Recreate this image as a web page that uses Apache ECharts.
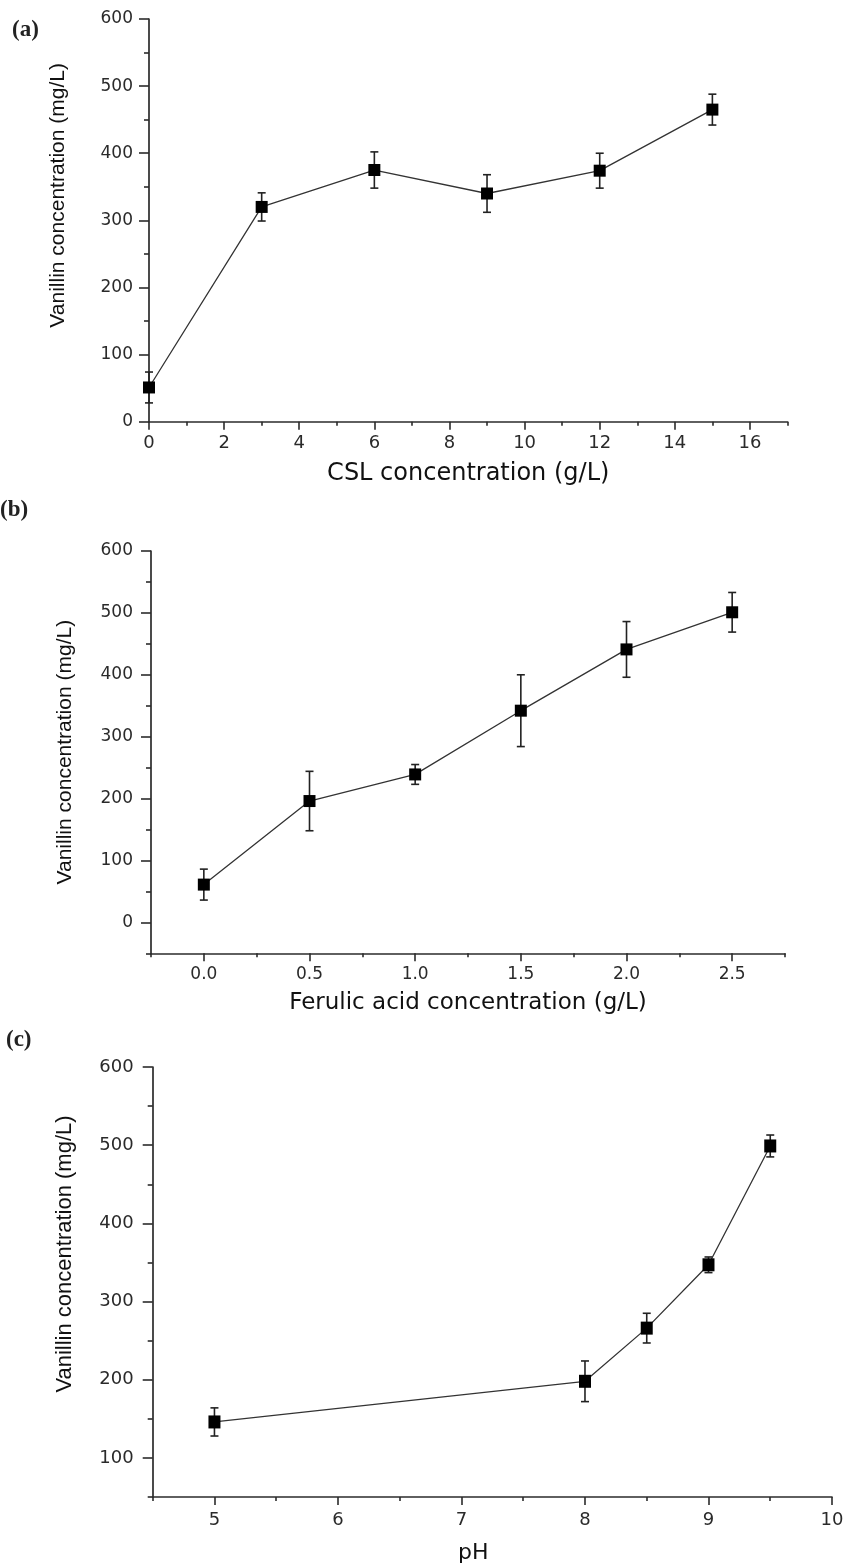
<!DOCTYPE html>
<html>
<head>
<meta charset="utf-8">
<script src="https://cdn.jsdelivr.net/npm/echarts@6/dist/echarts.min.js"></script>
<style>
  html, body { margin: 0; padding: 0; background: #fff; }
  #main { width: 849px; height: 1568px; }
</style>
</head>
<body>
<div id="main"></div>
<script>
// (a) CSL concentration
var cslX = [0, 3, 6, 9, 12, 15];
var cslY = [51, 320, 375, 340, 374, 465];
var cslErr = [23, 21, 27, 28, 26, 23];
// (b) ferulic acid concentration
var faX = [0, 0.5, 1.0, 1.5, 2.0, 2.5];
var faY = [61, 196, 239, 342, 441, 501];
var faErr = [25, 48, 16, 58, 45, 32];
// (c) pH
var phX = [5, 8, 8.5, 9, 9.5];
var phY = [146, 198, 266, 347, 499];
var phErr = [18, 26, 19, 10, 14];

// tick values
var aXMajor = [0, 2, 4, 6, 8, 10, 12, 14, 16];
var aXMinor = [1, 3, 5, 7, 9, 11, 13, 15, 17];
var aYMajor = [0, 100, 200, 300, 400, 500, 600];
var aYMinor = [50, 150, 250, 350, 450, 550];
var bXMajor = [0, 0.5, 1.0, 1.5, 2.0, 2.5];
var bXMinor = [-0.25, 0.25, 0.75, 1.25, 1.75, 2.25, 2.75];
var bYMajor = [0, 100, 200, 300, 400, 500, 600];
var bYMinor = [-50, 50, 150, 250, 350, 450, 550];
var cXMajor = [5, 6, 7, 8, 9, 10];
var cXMinor = [4.5, 5.5, 6.5, 7.5, 8.5, 9.5];
var cYMajor = [100, 200, 300, 400, 500, 600];
var cYMinor = [50, 150, 250, 350, 450, 550];

var chart = echarts.init(document.getElementById('main'));

var axisColor = '#2b2b2b';
var tickFont = 'DejaVu Sans';

function pairs(xs, ys) {
  var out = [];
  for (var i = 0; i < xs.length; i++) out.push([xs[i], ys[i]]);
  return out;
}
function errData(xs, ys, es) {
  var out = [];
  for (var i = 0; i < xs.length; i++) out.push([xs[i], ys[i] - es[i], ys[i] + es[i]]);
  return out;
}

// main x axis with labels and major ticks
function mainX(grid, min, max, major, name, fs, margin, gap, nameFs, namePad, fmt) {
  return {
    type: 'value', gridIndex: grid, min: min, max: max, position: 'bottom',
    name: name, nameLocation: 'middle', nameGap: gap,
    nameTextStyle: { fontFamily: tickFont, fontSize: nameFs, color: '#111', padding: namePad || 0 },
    axisLine: { show: true, onZero: false, lineStyle: { color: axisColor, width: 1.7 } },
    axisTick: { show: true, customValues: major, length: 8, lineStyle: { color: axisColor, width: 1.6 } },
    axisLabel: { customValues: major, margin: margin, fontFamily: tickFont, fontSize: fs, color: '#2a2a2a',
      formatter: fmt || function (v) { return String(v); } },
    splitLine: { show: false }
  };
}
// second axis on the same grid, only for the short minor ticks
function minorX(grid, min, max, minor) {
  return {
    type: 'value', gridIndex: grid, min: min, max: max, position: 'bottom',
    axisLine: { show: false, onZero: false },
    axisTick: { show: true, customValues: minor, length: 4, lineStyle: { color: axisColor, width: 1.6 } },
    axisLabel: { show: false },
    splitLine: { show: false }
  };
}
function mainY(grid, min, max, major, fs, margin, gap, nameFs, namePad) {
  return {
    type: 'value', gridIndex: grid, min: min, max: max, position: 'left',
    name: 'Vanillin concentration (mg/L)', nameLocation: 'middle', nameGap: gap,
    nameTextStyle: { fontFamily: 'Liberation Sans', fontSize: nameFs, color: '#111', padding: namePad },
    axisLine: { show: true, onZero: false, lineStyle: { color: axisColor, width: 1.7 } },
    axisTick: { show: true, customValues: major, length: 10, lineStyle: { color: axisColor, width: 1.6 } },
    axisLabel: { customValues: major, margin: margin, fontFamily: tickFont, fontSize: fs, color: '#2a2a2a' },
    splitLine: { show: false }
  };
}
function minorY(grid, min, max, minor) {
  return {
    type: 'value', gridIndex: grid, min: min, max: max, position: 'left',
    axisLine: { show: false, onZero: false },
    axisTick: { show: true, customValues: minor, length: 5, lineStyle: { color: axisColor, width: 1.6 } },
    axisLabel: { show: false },
    splitLine: { show: false }
  };
}

function errorSeries(idx, data) {
  return {
    type: 'custom', xAxisIndex: idx * 2, yAxisIndex: idx * 2, z: 2,
    data: data,
    encode: { x: 0, y: [1, 2] },
    renderItem: function (params, api) {
      var lo = api.coord([api.value(0), api.value(1)]);
      var hi = api.coord([api.value(0), api.value(2)]);
      var w = 4;
      var st = { stroke: '#222', lineWidth: 1.6 };
      return {
        type: 'group',
        children: [
          { type: 'line', shape: { x1: lo[0], y1: lo[1], x2: hi[0], y2: hi[1] }, style: st },
          { type: 'line', shape: { x1: lo[0] - w, y1: lo[1], x2: lo[0] + w, y2: lo[1] }, style: st },
          { type: 'line', shape: { x1: hi[0] - w, y1: hi[1], x2: hi[0] + w, y2: hi[1] }, style: st }
        ]
      };
    }
  };
}
function lineSeries(idx, data, size) {
  return {
    type: 'line', xAxisIndex: idx * 2, yAxisIndex: idx * 2, z: 3,
    data: data, symbol: 'rect', symbolSize: size,
    itemStyle: { color: '#000' },
    lineStyle: { color: '#333', width: 1.3 },
    animation: false
  };
}

var oneDec = function (v) { return v.toFixed(1); };

function panelLetter(txt, x, y) {
  return {
    type: 'text', left: x, top: y,
    style: { text: txt, fontFamily: 'Liberation Serif', fontSize: 23, fontWeight: 'bold', fill: '#222' }
  };
}

chart.setOption({
  animation: false,
  backgroundColor: '#fff',
  grid: [
    { left: 149, top: 19, width: 638.5, height: 402.7 },
    { left: 151, top: 551, width: 634, height: 402.3 },
    { left: 152.7, top: 1067, width: 679.3, height: 430 }
  ],
  xAxis: [
    mainX(0, 0, 17, aXMajor, 'CSL concentration (g/L)', 18, 13, 40, 24),
    minorX(0, 0, 17, aXMinor),
    mainX(1, -0.25, 2.75, bXMajor, 'Ferulic acid concentration (g/L)', 17, 13, 38, 23, null, oneDec),
    minorX(1, -0.25, 2.75, bXMinor),
    mainX(2, 4.5, 10, cXMajor, 'pH', 18, 14, 45, 22, [0, 38, 0, 0]),
    minorX(2, 4.5, 10, cXMinor)
  ],
  yAxis: [
    mainY(0, 0, 600, aYMajor, 17, 16, 80, 21, [0, 0, 0, 50]),
    minorY(0, 0, 600, aYMinor),
    mainY(1, -50, 600, bYMajor, 17, 18, 75, 21, 0),
    minorY(1, -50, 600, bYMinor),
    mainY(2, 50, 600, cYMajor, 18, 19, 77, 22, [0, 0, 0, 56]),
    minorY(2, 50, 600, cYMinor)
  ],
  graphic: [
    panelLetter('(a)', 12, 19),
    panelLetter('(b)', 0, 499),
    panelLetter('(c)', 6, 1029)
  ],
  series: [
    errorSeries(0, errData(cslX, cslY, cslErr)),
    lineSeries(0, pairs(cslX, cslY), 12),
    errorSeries(1, errData(faX, faY, faErr)),
    lineSeries(1, pairs(faX, faY), 12),
    errorSeries(2, errData(phX, phY, phErr)),
    lineSeries(2, pairs(phX, phY), [12, 13])
  ]
});
</script>
</body>
</html>
